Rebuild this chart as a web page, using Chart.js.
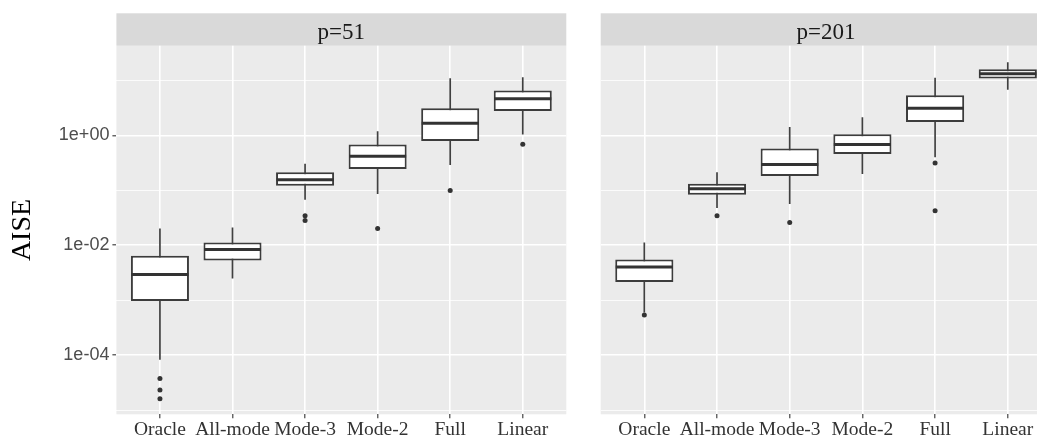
<!DOCTYPE html>
<html>
<head>
<meta charset="utf-8">
<script src="https://cdn.jsdelivr.net/npm/chart.js@4.4.1/dist/chart.umd.min.js"></script>
<style>
  html, body { margin: 0; padding: 0; background: #ffffff; overflow: hidden; }
  #wrap { position: relative; width: 1037px; height: 436px; overflow: hidden; background: #fff; }
  #cL { position: absolute; left: 0; top: 0; }
  #cR { position: absolute; left: 583px; top: 0; }
</style>
</head>
<body>
<div id="wrap">
  <canvas id="cL" width="583" height="436"></canvas>
  <canvas id="cR" width="490" height="436"></canvas>
</div>
<script>
// ---------- data ----------
const categories = ['Oracle', 'All-mode', 'Mode-3', 'Mode-2', 'Full', 'Linear'];
const panelTitles = ['p=51', 'p=201'];

// p = 51
const p51Lower  = [0.0000832, 0.00248, 0.0675, 0.0857, 0.289, 1.03];
const p51Q1     = [0.000975, 0.00528, 0.121, 0.244, 0.791, 2.78];
const p51Median = [0.00294, 0.00838, 0.156, 0.414, 1.66, 4.60];
const p51Q3     = [0.00644, 0.01125, 0.212, 0.678, 3.10, 6.52];
const p51Upper  = [0.0202, 0.0211, 0.305, 1.18, 10.9, 11.4];
const p51Outliers = [[0.000038, 0.0000234, 0.0000162], [], [0.0344, 0.0283], [0.0202], [0.0995], [0.685]];

// p = 201
const p201Lower  = [0.000597, 0.0475, 0.0562, 0.198, 0.397, 6.71];
const p201Q1     = [0.00216, 0.0832, 0.182, 0.458, 1.75, 10.8];
const p201Median = [0.00401, 0.107, 0.296, 0.678, 3.10, 13.1];
const p201Q3     = [0.00551, 0.132, 0.573, 1.04, 5.36, 15.9];
const p201Upper  = [0.01125, 0.212, 1.42, 2.13, 11.1, 21.4];
const p201Outliers = [[0.000542], [0.0344], [0.0260], [], [0.314, 0.0425], []];

// y axis ticks
const yMajorTicks  = [1e-4, 1e-2, 1];
const yMajorLabels = ['1e-04', '1e-02', '1e+00'];
const yMinorTicks  = [1e-5, 1e-3, 1e-1, 10];
const yMin = 8.45e-6;
const yMax = 42.6;

// ---------- helpers ----------
const INK = '#333333';
const BOXLINE = '#3C3C3C';
const serif = '"Liberation Serif", "Times New Roman", serif';
const sans = 'Arial, "Liberation Sans", Helvetica, sans-serif';

function isMajor(v) {
  return yMajorTicks.some(t => Math.abs(Math.log10(t) - Math.log10(v)) < 1e-6);
}
function labelFor(v) {
  const i = yMajorTicks.findIndex(t => Math.abs(Math.log10(t) - Math.log10(v)) < 1e-6);
  return i >= 0 ? yMajorLabels[i] : '';
}

function buildDatasets(lo, q1, med, q3, hi, out) {
  const whiskers = {
    type: 'bar',
    data: categories.map((c, i) => ({ x: i + 1, y: [lo[i], hi[i]] })),
    backgroundColor: '#404040',
    borderWidth: 0,
    grouped: false,
    maxBarThickness: 1.7,
    categoryPercentage: 1,
    barPercentage: 0.8,
    order: 3
  };
  const boxes = {
    type: 'bar',
    data: categories.map((c, i) => ({ x: i + 1, y: [q1[i], q3[i]] })),
    backgroundColor: '#ffffff',
    borderColor: BOXLINE,
    borderWidth: 2,
    borderSkipped: false,
    grouped: false,
    categoryPercentage: 1,
    barPercentage: 0.8,
    order: 2
  };
  const medians = {
    type: 'scatter',
    data: categories.map((c, i) => ({ x: i + 1, y: med[i] })),
    pointStyle: 'line',
    radius: (ctx) => {
      const xs = ctx.chart.scales.x;
      return xs.getPixelForValue(1.4) - xs.getPixelForValue(1) - 0.5;
    },
    borderColor: INK,
    borderWidth: 3,
    order: 1
  };
  const pts = [];
  out.forEach((arr, i) => arr.forEach(v => pts.push({ x: i + 1, y: v })));
  const outliers = {
    type: 'scatter',
    data: pts,
    pointStyle: 'circle',
    radius: 2.5,
    backgroundColor: INK,
    borderWidth: 0,
    order: 0
  };
  return [whiskers, boxes, medians, outliers];
}

const panelPlugin = {
  id: 'panel',
  beforeDraw(chart, args, opts) {
    const { ctx, chartArea } = chart;
    ctx.save();
    ctx.fillStyle = '#EBEBEB';
    ctx.fillRect(chartArea.left, chartArea.top, chartArea.right - chartArea.left, chartArea.bottom - chartArea.top);
    // strip
    ctx.fillStyle = '#D9D9D9';
    ctx.fillRect(chartArea.left, chartArea.top - 32.4, chartArea.right - chartArea.left, 32.4);
    ctx.fillStyle = '#1A1A1A';
    ctx.font = '23px ' + serif;
    ctx.textAlign = 'center';
    ctx.textBaseline = 'alphabetic';
    ctx.fillText(opts.title, (chartArea.left + chartArea.right) / 2, chartArea.top - 7.2);
    ctx.restore();
  }
};

function makeChart(canvasId, datasets, title, isLeft, padding) {
  return new Chart(document.getElementById(canvasId), {
    type: 'bar',
    data: { datasets },
    plugins: [panelPlugin],
    options: {
      responsive: false,
      animation: false,
      events: [],
      layout: { padding },
      plugins: {
        legend: { display: false },
        tooltip: { enabled: false },
        panel: { title }
      },
      scales: {
        x: {
          type: 'linear',
          min: 0.4,
          max: 6.6,
          offset: false,
          afterBuildTicks: (s) => { s.ticks = categories.map((c, i) => ({ value: i + 1 })); },
          afterFit: (s) => { s.height = 21.7; },
          grid: {
            offset: false,
            color: '#FFFFFF',
            lineWidth: 1.6,
            drawTicks: true,
            tickLength: 4,
            tickColor: INK,
            tickWidth: 1.1
          },
          border: { display: false },
          ticks: {
            autoSkip: false,
            maxRotation: 0,
            padding: 0,
            color: INK,
            font: { family: serif, size: 19.5 },
            callback: (v) => categories[Math.round(v) - 1] || ''
          }
        },
        y: {
          type: 'logarithmic',
          min: yMin,
          max: yMax,
          afterBuildTicks: (s) => {
            s.ticks = yMinorTicks.concat(yMajorTicks).sort((a, b) => a - b).map(v => ({ value: v }));
          },
          afterFit: (s) => { s.width = isLeft ? 116.4 : 0; },
          grid: {
            color: '#FFFFFF',
            lineWidth: (c) => isMajor(c.tick.value) ? 1.6 : 0.8,
            drawTicks: isLeft,
            tickLength: 4,
            tickColor: (c) => isMajor(c.tick.value) ? INK : 'rgba(0,0,0,0)',
            tickWidth: 1.1
          },
          border: { display: false },
          title: {
            display: isLeft,
            text: 'AISE',
            color: '#000000',
            font: { family: serif, size: 28 },
            padding: { top: 6, bottom: 0 }
          },
          ticks: {
            display: isLeft,
            padding: 3,
            color: '#4D4D4D',
            font: { family: sans, size: 18 },
            callback: (v) => labelFor(v)
          }
        }
      }
    }
  });
}

makeChart('cL',
  buildDatasets(p51Lower, p51Q1, p51Median, p51Q3, p51Upper, p51Outliers),
  panelTitles[0], true, { top: 45.7, right: 16.7, left: 0, bottom: 0 });

makeChart('cR',
  buildDatasets(p201Lower, p201Q1, p201Median, p201Q3, p201Upper, p201Outliers),
  panelTitles[1], false, { top: 45.7, right: 21.6, left: 17.7, bottom: 0 });
</script>
</body>
</html>
